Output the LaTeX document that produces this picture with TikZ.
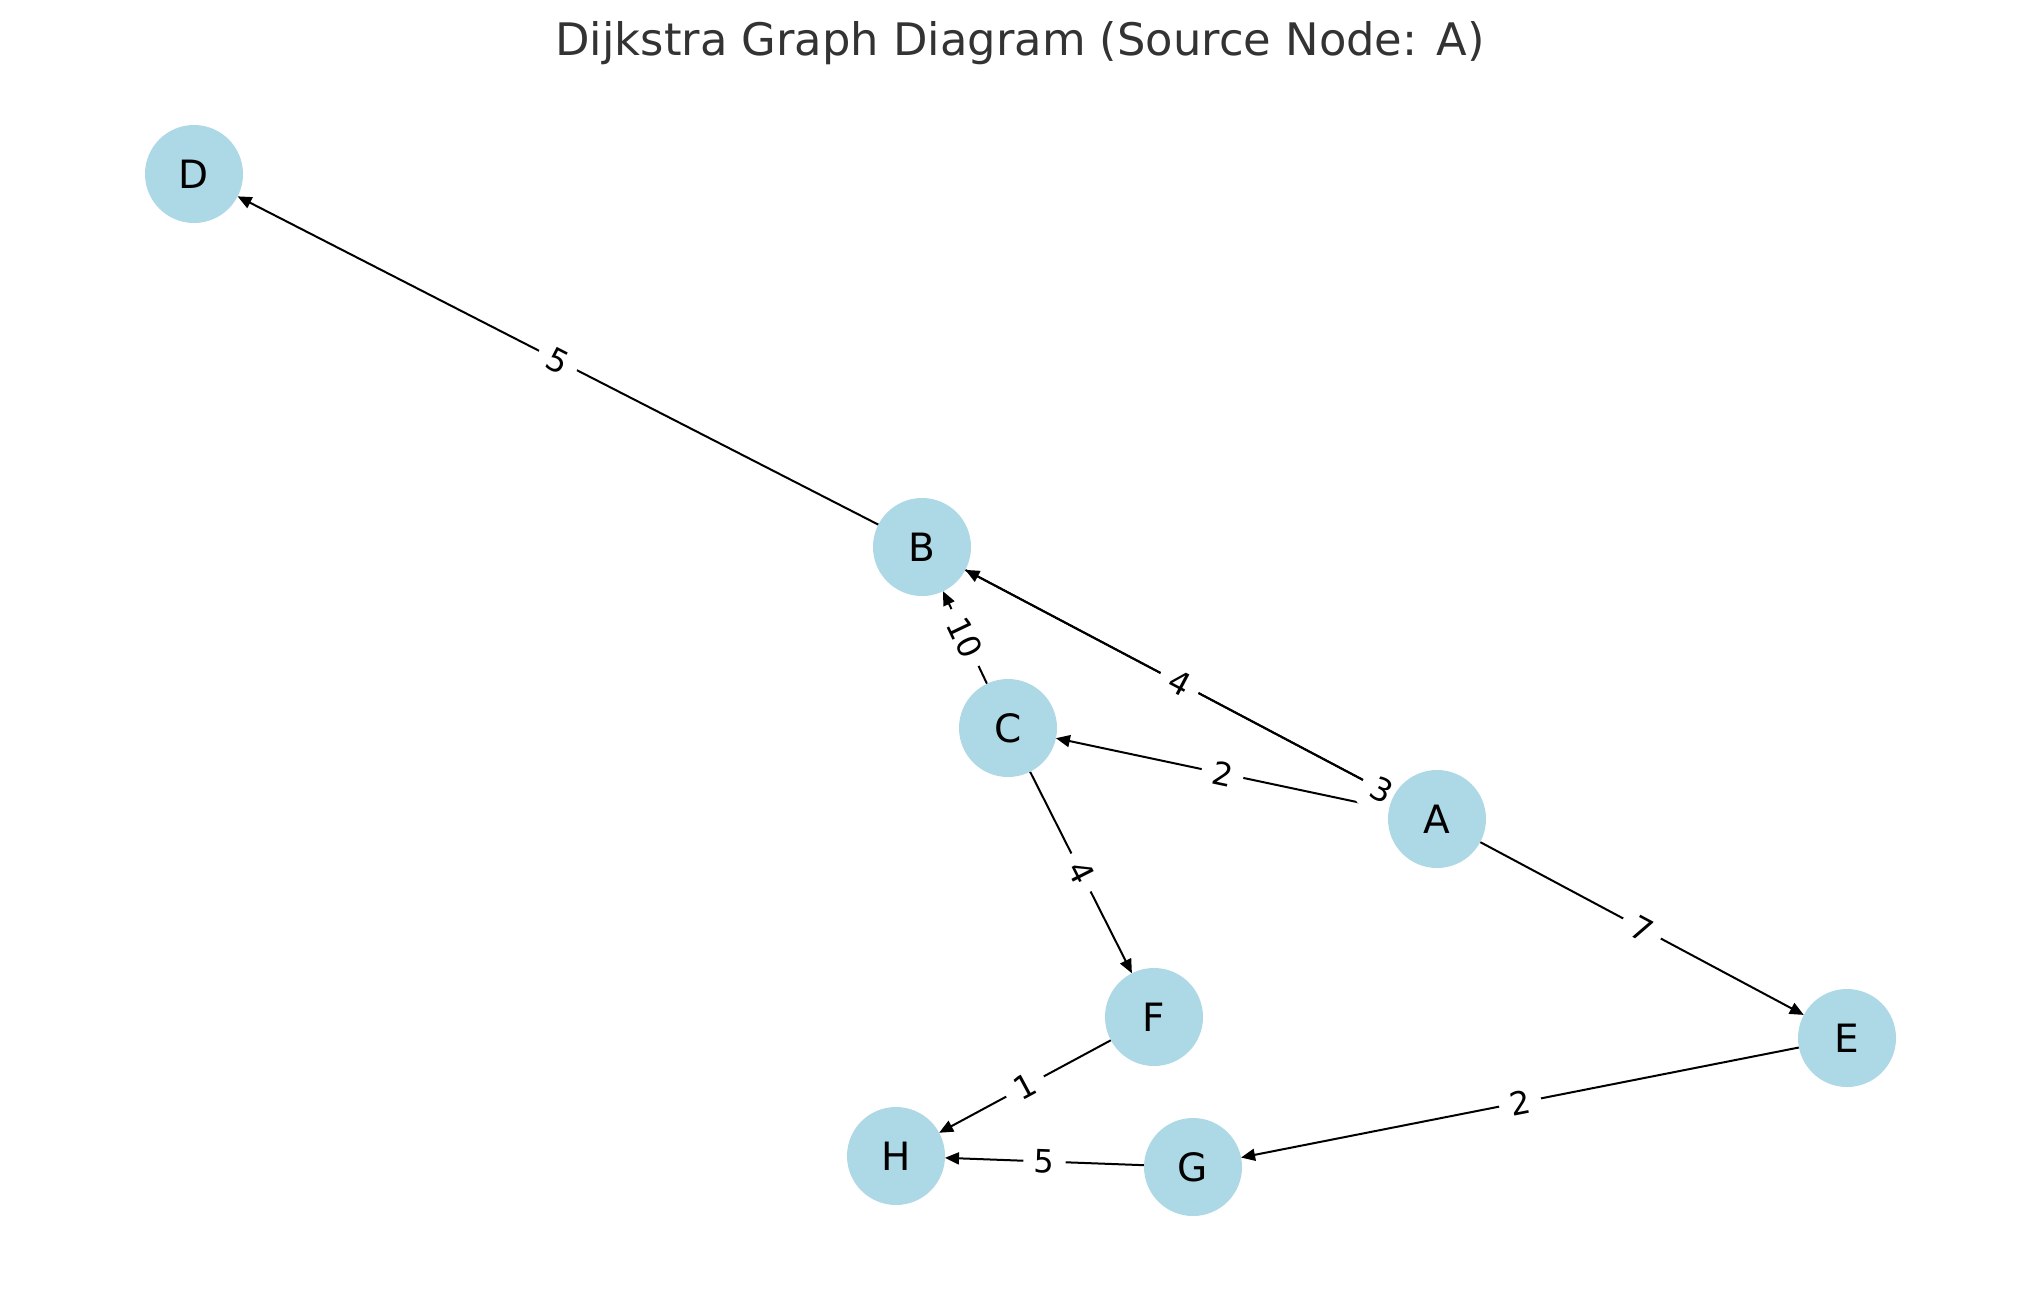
\documentclass[tikz,border=0pt]{standalone}
\usepackage{fontspec}
\setmainfont{DejaVu Sans}
\usetikzlibrary{arrows.meta, backgrounds}
\definecolor{nodeblue}{HTML}{ADD8E6}
\definecolor{titlegray}{HTML}{333333}

\begin{document}
\begin{tikzpicture}[x=0.5pt, y=-0.5pt,
		vertex/.style={circle, fill=nodeblue, minimum size=49pt, inner sep=0pt, outer sep=0pt, font=\fontsize{19.5}{23}\selectfont},
		edge/.style={-{Triangle[length=7pt, width=6pt]}, line width=1pt},
		weight/.style={fill=white, inner sep=5.5pt, sloped, rounded corners=4pt, font=\fontsize{16}{19}\selectfont}]
		% 固定画面大小 2039 * 1290
		\useasboundingbox (0, 0) rectangle (2039, 1290);

		% 标题
		\node[anchor = base, text=titlegray, font=\fontsize{22.4}{27}\selectfont] (title) at (1020, 55) {Dijkstra Graph Diagram (Source Node: A)};

		% 绘制各个顶点
		\foreach \n/\x/\y in {A/1437/819, B/922/547, C/1008/728, D/194/174, E/1847/1038, F/1154/1017, G/1193/1167, H/896/1156} {
				\node[vertex] (\n) at (\x, \y) {\n};
			}

		\begin{pgfonlayer}{background}
			% B 到 A 的边, 箭头被权重盖住
			\draw[edge] (B) -- (A);

			% 绘制有向边和权重
			\foreach \s/\t/\w in {B/D/5, A/B/4, A/C/2, C/B/10, C/F/4, A/E/7, E/G/2, F/H/1, G/H/5} {
					\draw[edge] (\s) -- node[weight] {\w} (\t);
				}

			% B 到 A 的权重, 靠近 A
			\path (A.center) -- node[weight, pos=0.107] {3} (B.center);
		\end{pgfonlayer}
	\end{tikzpicture}
\end{document}
